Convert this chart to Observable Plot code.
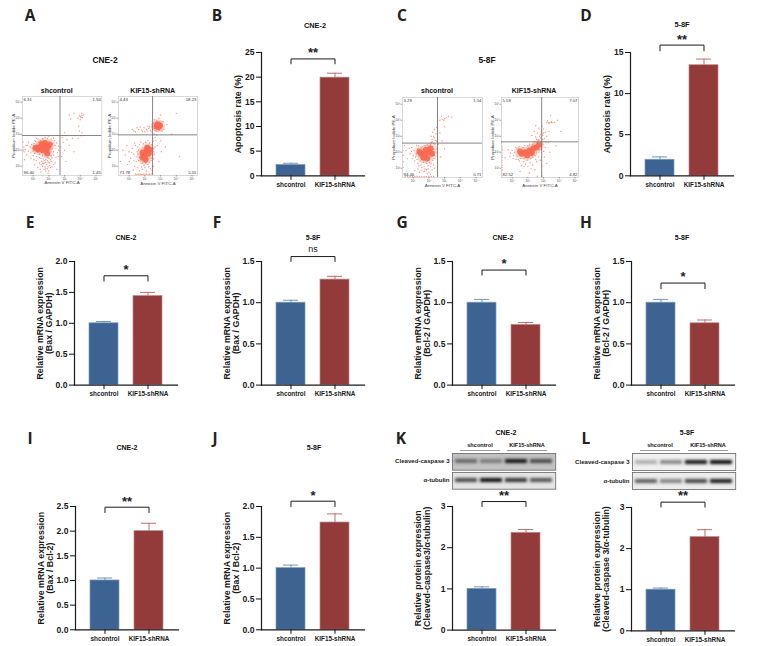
<!DOCTYPE html>
<html><head><meta charset="utf-8">
<script src="https://cdn.jsdelivr.net/npm/d3@7"></script>
<script src="https://cdn.jsdelivr.net/npm/@observablehq/plot@0.6"></script>
<style>
html,body{margin:0;padding:0;background:#fff}
#page{position:relative;width:768px;height:646px;overflow:hidden;font-family:"Liberation Sans",sans-serif;color:#111}
#page>svg,#page>div{position:absolute}
.t{transform:translate(-50%,-50%);white-space:nowrap;font-weight:700;line-height:1}
.letter{font-family:"Open Sans",sans-serif;font-size:15.5px;font-weight:700;color:#222}
.blot g[aria-label="cell"] rect{filter:blur(1.5px)}
.flow g[aria-label="dot"] circle{filter:blur(.25px)}
.flow g[aria-label="core"] circle{filter:blur(1px)}
</style></head><body><div id="page"></div>
<script>
// ---------- bar panels ----------
const groups = ["shcontrol", "KIF15-shRNA"];
const panelIds = ["B","D","E","F","G","H","I","J","K","L"];
const meanControl = [2.2,1.95,1.0,1.0,1.0,1.0,1.0,1.0,1.0,1.0];
const meanKif = [19.9,13.45,1.44,1.28,0.73,0.75,2.0,1.74,2.36,2.28];
const errControl = [2.55,2.3,1.03,1.03,1.04,1.04,1.05,1.05,1.05,1.04];
const errKif = [20.8,14.2,1.5,1.32,0.76,0.79,2.16,1.88,2.44,2.46];
const yMax = [25,15,2,1.5,1.5,1.5,2.5,2,3,3];
const yTicks = [[0,5,10,15,20,25],[0,5,10,15],[0,.5,1,1.5,2],[0,.5,1,1.5],[0,.5,1,1.5],[0,.5,1,1.5],[0,.5,1,1.5,2,2.5],[0,.5,1,1.5,2],[0,1,2,3],[0,1,2,3]];
const yLabels = ["Apoptosis rate (%)","Apoptosis rate (%)",
 "Relative mRNA expression\n(Bax / GAPDH)","Relative mRNA expression\n(Bax / GAPDH)",
 "Relative mRNA expression\n(Bcl-2 / GAPDH)","Relative mRNA expression\n(Bcl-2 / GAPDH)",
 "Relative mRNA expression\n(Bax / Bcl-2)","Relative mRNA expression\n(Bax / Bcl-2)",
 "Relative protein expression\n(Cleaved-caspase3/α-tubulin)","Relative protein expression\n(Cleaved-caspase 3/α-tubulin)"];
const sigText = ["**","**","*","ns","*","*","**","*","**","**"];
const bracketTop = [23.7,15.9,1.769,1.56,1.396,1.238,2.486,2.086,3.12,3.13];
const bracketEnd = [22.7,15.2,1.683,1.5,1.335,1.17,2.378,2.0,3.0,3.01];
const sigY = [25.2,16.7,1.88,1.654,1.484,1.326,2.62,2.195,3.29,3.31];
// layout of bar panels on the page: axis x, y of top tick, y of baseline
const panelX = [261,630,74,261,451.7,631.3,75.3,261,451.7,631.3];
const panelTop = [51.7,51.7,260.7,260.7,260.7,260.7,506,506,505.7,506.7];
const panelBottom = [175,175,384.3,384.3,384.3,384.3,629.3,629.3,629.3,630];

const page = document.getElementById("page");
const FONT = "Liberation Sans";
const BLUE = "#3c6391", RED = "#933a3a";
function place(svg, left, top){ svg.style.left = left+"px"; svg.style.top = top+"px"; page.appendChild(svg); }

panelIds.forEach((id,i)=>{
  const rows = [
    {g:groups[0], v:meanControl[i], e:errControl[i], fill:BLUE, edge:"#7d9bbf", err:"#7394bb"},
    {g:groups[1], v:meanKif[i], e:errKif[i], fill:RED, edge:"#bd8686", err:"#c4686c"}
  ];
  const bracket = [
    {g:groups[0], y:bracketEnd[i]},{g:groups[0], y:bracketTop[i]},
    {g:groups[1], y:bracketTop[i]},{g:groups[1], y:bracketEnd[i]}
  ];
  const ml=50, mt=26, mb=20, mr=2, w=103;
  const ph = panelBottom[i]-panelTop[i];
  const isNs = sigText[i]==="ns";
  const twoLine = yLabels[i].includes("\n");
  const svg = Plot.plot({
    width: ml+w+mr, height: mt+ph+mb,
    marginLeft: ml, marginRight: mr, marginTop: mt, marginBottom: mb,
    style:{fontFamily:FONT, background:"transparent", overflow:"visible"},
    x:{domain:groups, padding:0.335, label:null},
    y:{domain:[0,yMax[i]], label:null},
    marks:[
      Plot.barY(rows,{x:"g", y:"v", fill:d=>d.fill, stroke:d=>d.edge, strokeWidth:0.7}),
      Plot.ruleX(rows,{x:"g", y1:"v", y2:"e", stroke:d=>d.err, strokeWidth:1}),
      Plot.tickY(rows,{x:"g", y:"e", stroke:d=>d.err, strokeWidth:1, insetLeft:7, insetRight:7}),
      Plot.frame({anchor:"left", stroke:"#1a1a1a", strokeWidth:1.2}),
      Plot.frame({anchor:"bottom", stroke:"#1a1a1a", strokeWidth:1.2}),
      Plot.axisY({ticks:yTicks[i], tickFormat:d=>yMax[i]<=2.5?d3.format(".1f")(d):String(d), tickSize:5, tickPadding:2, fontSize:8.6, fontWeight:700, fill:"#1a1a1a", label:null}),
      Plot.axisY({ticks:[], tickSize:0, fontSize:8.9, fontWeight:700, fill:"#1a1a1a", lineHeight:1.28,
        label:yLabels[i], labelAnchor:"center", labelArrow:"none", labelOffset:twoLine?38:27}),
      Plot.axisX({tickSize:4.5, tickPadding:2, fontSize:6.4, fontWeight:700, fill:"#1a1a1a", label:null}),
      Plot.line(bracket,{x:"g", y:"y", stroke:"#1a1a1a", strokeWidth:1}),
      Plot.text([sigText[i]],{y:()=>sigY[i], text:d=>d, fontSize:isNs?9:13, fontWeight:isNs?400:700, fill:"#222", dy:isNs?0:1, lineAnchor:"middle"})
    ]
  });
  place(svg, panelX[i]-ml, panelTop[i]-mt);
});

const flowIds = ["A1","A2","C1","C2"];
const flowCore = {
 A1:[[1.45,2.2],[1.7,2.3],[1.95,2.2],[1.6,2.0],[1.85,2.0],[1.3,2.05],[2.05,2.35],[1.75,2.45],[1.9,1.8],[1.55,2.4],[1.15,2.15]],
 A2:[[1.85,1.85],[2.1,1.95],[2.25,1.8],[2.0,1.65],[1.85,1.55],[2.15,2.15],[2.3,2.05],[2.05,1.4],[2.75,3.5],[2.85,3.45],[2.8,3.62],[2.95,3.55]],
 C1:[[1.5,1.9],[1.75,1.85],[2.0,2.0],[1.65,1.65],[1.9,1.6],[1.4,2.05],[2.1,2.25],[1.8,2.15],[2.2,1.9]],
 C2:[[1.6,1.9],[1.85,2.0],[2.1,2.1],[2.35,2.25],[1.95,1.8],[2.25,1.95],[1.5,2.05],[2.55,2.3],[2.7,2.45]]
};
const flowSpray = {
 A1:[[.95,2.1],[1.05,2.4],[1.1,1.8],[1.15,2.55],[1.0,1.95],[1.2,1.6],[1.3,2.7],[1.5,1.5],[1.65,1.45],[1.8,1.4],[2.0,1.5],[2.15,1.65],[2.3,1.9],[2.4,2.3],[2.35,2.6],[2.15,2.7],[1.9,2.75],[1.6,2.72],[2.45,2.1],[2.55,1.85],
  [1.7,1.2],[1.85,1.1],[1.95,1.25],[2.05,1.05],[1.75,.95],[1.9,.85],[2.0,.7],[1.6,1.0],[1.55,1.3],[2.15,1.3],[2.2,.95],[1.8,.7],[1.4,1.2],[1.3,.9],[1.1,1.1],[2.4,1.2],[2.5,.8],[1.95,.55],[1.5,.62],
  [.4,2.2],[.36,2.5],[.42,1.9],[.5,2.05],[.65,2.3],[.7,1.95],[.8,2.2],[.6,1.7],[.45,1.4],[.38,2.0],
  [2.75,2.2],[2.9,2.5],[3.0,2.0],[3.15,2.65],[3.3,2.3],[3.5,2.75],[2.8,1.6],[3.1,1.3],[3.6,1.9],[2.85,2.8],
  [4.0,4.1],[4.1,4.15],[4.05,4.05],[3.95,4.15],[4.15,4.05],[4.2,4.2],[3.85,4.0],[4.0,3.9],[4.1,4.3],[3.6,4.3],[3.4,3.95],[3.9,3.5],[3.3,4.2],[3.95,3.2],[4.05,2.9],[3.85,2.75],[4.1,3.1],[3.0,3.1],
  [1.2,2.3],[1.25,1.9],[1.35,2.5],[1.4,1.75],[1.45,2.6],[2.2,2.1],[2.25,2.4],[2.3,1.7],[2.2,1.5],[2.1,1.4],[1.9,1.55],[1.75,1.6],[1.6,1.65],[1.4,1.55],[1.05,2.2],[.9,2.35],[.85,1.85],[1.0,1.65],[1.1,2.6],[1.2,2.75],[1.75,2.8],[2.0,2.85],[2.3,2.75],[2.5,2.45],[2.6,2.25],[2.62,2.0],[2.6,1.6],[2.45,1.55],[1.8,1.25],[1.9,1.35],[2.05,1.2],[1.7,1.35],[1.65,1.15],[1.95,.95],[1.8,.85],[2.1,.9],[1.7,.8],[1.6,1.2],[1.5,1.1],[2.3,1.1],[1.45,.8],[1.2,1.35],[1.05,1.4],[.85,1.5],[.7,2.5],[.55,2.3]],
 A2:[[1.5,1.9],[1.45,1.6],[1.55,2.2],[1.6,1.35],[1.75,1.15],[1.95,1.05],[2.2,1.1],[2.4,1.35],[2.5,1.7],[2.55,2.1],[2.45,2.35],[2.3,2.45],[1.9,2.4],[1.65,2.35],[1.3,1.75],[1.2,2.1],[1.1,1.5],[1.0,1.9],[.85,2.3],[.75,1.7],[.6,2.0],[.45,1.3],[1.35,1.0],[1.55,.9],[1.85,.8],[2.1,.7],[2.35,.85],[2.55,1.0],[1.25,.75],
  [1.6,.5],[1.8,.48],[2.0,.5],[2.2,.48],[2.4,.5],[1.4,.5],[1.9,.5],[2.3,.5],[1.5,.48],[1.7,.5],[2.1,.5],
  [2.55,2.55],[2.65,2.8],[2.6,3.0],[2.7,2.6],[2.75,2.95],[2.5,2.75],[2.8,2.3],[3.0,2.6],[3.05,1.9],[3.3,2.2],[2.9,1.3],
  [1.6,3.3],[1.8,3.25],[1.95,3.4],[2.1,3.3],[2.25,3.35],[2.35,3.25],[2.45,3.45],[1.4,3.15],[1.2,3.3],[2.0,3.15],[2.2,3.5],[2.5,3.3],[1.7,3.45],
  [2.55,3.7],[2.6,3.9],[3.1,3.5],[3.15,3.8],[3.2,3.3],[2.9,4.0],[3.1,3.2],[2.65,3.25],[3.4,3.6],[3.0,4.2],[3.7,3.0],[4.2,1.6],[4.0,4.3],
  [1.6,2.0],[1.55,1.75],[1.4,2.3],[1.65,1.55],[1.7,1.35],[1.85,1.2],[2.05,1.2],[2.3,1.25],[2.4,1.5],[2.5,1.9],[2.6,1.75],[2.55,1.45],[2.65,2.2],[1.75,2.5],[2.05,2.5],[2.2,2.6],[1.45,1.3],[1.3,1.35],[1.15,1.85],[1.35,2.45],[1.0,1.3],[1.8,.95],[2.0,.9],[2.25,.95],[2.45,.75],[1.65,.72],[.9,1.1],
  [1.85,3.15],[2.15,3.2],[2.3,3.45],[2.4,3.15],[2.45,3.6],[2.6,3.35],[2.6,3.6],[3.05,3.35],[3.05,3.7],[2.95,3.25],[2.75,3.2],[2.75,3.85],[1.5,3.4],[1.3,3.2]],
 C1:[[1.05,2.1],[1.15,1.7],[1.1,1.45],[1.2,2.4],[1.3,1.3],[1.5,1.2],[1.7,1.1],[1.95,1.15],[2.15,1.3],[2.35,1.6],[2.45,2.0],[2.45,2.35],[2.3,2.55],[2.15,2.6],[1.9,2.45],[1.6,2.35],[1.35,2.4],[.9,2.3],[.8,1.9],[.65,1.6],[.55,2.1],[.45,2.4],[.36,1.8],[.36,1.4],[.36,2.1],[.36,1.05],
  [1.85,.9],[2.0,.75],[1.7,.8],[1.5,.85],[1.3,.95],[2.2,.9],[2.35,1.0],[1.1,.85],
  [.5,.48],[.8,.48],[1.1,.48],[1.4,.48],[1.7,.48],[2.0,.48],[2.3,.48],[.65,.48],[.95,.48],[1.25,.48],[1.55,.48],[1.85,.48],[2.15,.48],
  [2.2,2.8],[2.3,3.0],[2.4,2.75],[2.45,3.15],[2.25,3.25],[2.55,2.9],[2.6,2.5],[2.35,3.4],[2.5,3.55],[2.7,3.2],[2.85,2.7],[3.0,2.2],[2.75,1.7],[2.15,3.0],
  [2.7,4.0],[2.85,4.05],[3.0,4.1],[3.1,4.15],[2.95,4.0],[2.55,3.95],[3.25,4.25],[2.8,4.25],[3.0,3.6],[3.45,4.2],
  [1.25,1.55],[1.2,1.9],[1.3,2.2],[1.45,1.45],[1.65,1.35],[1.85,1.3],[2.05,1.35],[2.25,1.5],[2.35,1.8],[2.3,2.2],[2.4,2.5],[2.5,2.2],[2.5,2.7],[2.1,2.5],[1.75,2.4],[1.5,2.3],[1.0,1.8],[.95,1.6],[.9,2.05],[.75,2.25],[1.55,1.05],[1.75,.95],[1.95,.95],[2.1,1.1],[1.35,1.15],[2.3,1.2],[1.4,.75],[1.9,.65],[2.1,.6],[2.35,2.9],[2.2,2.65]],
 C2:[[1.1,1.8],[1.0,2.1],[.85,1.75],[.75,2.15],[1.2,2.3],[1.25,1.55],[1.45,1.45],[1.7,1.4],[1.95,1.5],[2.2,1.6],[2.45,1.8],[2.7,2.0],[2.85,2.2],[2.95,2.5],[2.7,2.75],[2.4,2.65],[2.1,2.5],[1.8,2.4],[1.45,2.35],[.55,1.65],
  [.36,1.2],[.36,1.5],[.36,1.8],[.36,2.1],[.36,2.35],[.36,.9],[.36,1.35],[.36,1.65],[.36,1.95],[.36,2.2],[.36,1.05],
  [1.6,1.15],[2.0,1.1],[2.3,1.2],[2.55,1.4],[2.8,1.5],[3.05,1.7],[2.9,1.1],[2.45,.9],[3.2,1.3],[3.4,2.0],[3.1,2.3],[3.3,2.6],[2.1,.7],[1.5,.8],
  [2.5,2.95],[2.6,3.2],[2.75,3.0],[2.85,3.3],[2.95,3.05],[3.05,2.85],[2.7,3.5],[2.9,3.6],[3.1,3.25],[3.2,3.0],[2.8,2.9],[2.4,3.3],[3.0,3.45],[2.65,2.75],[3.35,3.3],[2.25,3.05],[2.5,3.65],
  [3.2,3.85],[3.3,3.85],[3.4,3.85],[3.5,3.85],[3.6,3.85],[3.7,3.88],[3.35,3.8],[3.5,3.9],[3.25,3.95],[3.45,4.3],[3.9,4.0],[4.1,3.3],[3.8,2.4],[2.6,.5],[2.9,.5],
  [1.3,1.75],[1.15,2.0],[1.3,2.2],[1.4,1.55],[1.55,1.6],[1.75,1.6],[2.05,1.65],[2.3,1.7],[2.55,1.95],[2.75,2.15],[2.9,2.35],[2.85,2.6],[2.6,2.6],[2.3,2.5],[2.0,2.4],[1.7,2.3],[1.4,2.25],[1.05,1.6],[.9,1.95],[2.65,2.2],[2.95,2.8],[2.8,2.45],[1.85,1.25],[2.15,1.35],[2.5,1.55],[2.7,1.7],[3.0,2.05],[3.15,2.6],[2.55,2.8],[2.9,3.15],[3.0,3.2],[2.8,3.1],[1.75,1.1],[2.2,.95]]
};
const flowGate = {A1:[2.71,2.92],A2:[2.49,2.96],C1:[2.55,2.57],C2:[2.88,2.65]};
const flowQuad = {A1:["6.31","1.94","96.40","1.45"],A2:["4.43","18.23","71.78","5.55"],C1:["3.29","1.54","94.46","0.71"],C2:["5.59","7.07","82.52","4.82"]};
const flowYLabel = "Propidium Iodide PE-A";
const flowXLabel = "Annexin V FITC-A";
const decades = [1,2,3,4,5];
const sup = {1:"¹",2:"²",3:"³",4:"⁴",5:"⁵"};
// page layout: frame left, top, width, height
const flowBox = {A1:[21.7,96,79.3,79],A2:[118.3,96,79,79],C1:[402.3,96.7,80,80],C2:[501.3,96.7,77,80]};

flowIds.forEach(id=>{
  const [l,t,w,h] = flowBox[id];
  const ml=16, mb=12, mt=1, mr=1;
  const q = flowQuad[id];
  const dotC = "#f7674f";
  const svg = Plot.plot({
    className:"flow",
    width:ml+w+mr, height:mt+h+mb, marginLeft:ml, marginRight:mr, marginTop:mt, marginBottom:mb,
    style:{fontFamily:FONT, background:"transparent", overflow:"visible"},
    x:{domain:[.32,.32+w/15.7], label:null},
    y:{domain:[.42,.42+h/16], label:null},
    marks:[
      Plot.dot(flowCore[id],{x:d=>d[0], y:d=>d[1], r:5.5, fill:dotC, fillOpacity:.18, ariaLabel:"core"}),
      Plot.dot(flowSpray[id],{x:d=>d[0], y:d=>d[1], r:0.7, fill:dotC, fillOpacity:.7}),
      Plot.dot(flowCore[id],{x:d=>d[0], y:d=>d[1], r:3, fill:dotC, fillOpacity:.9, ariaLabel:"core"}),
      Plot.frame({stroke:"#cfcfcf", strokeWidth:.8}),
      Plot.ruleX([flowGate[id][0]],{stroke:"#777", strokeWidth:.9}),
      Plot.ruleY([flowGate[id][1]],{stroke:"#777", strokeWidth:.9}),
      Plot.axisX({ticks:decades, tickFormat:d=>"10"+sup[d], tickSize:1.5, tickPadding:.5, fontSize:3.4, fill:"#555", stroke:"#999", label:null}),
      Plot.axisY({ticks:decades, tickFormat:d=>"10"+sup[d], tickSize:1.5, tickPadding:.5, fontSize:3.4, fill:"#555", stroke:"#999", label:null}),
      Plot.axisX({ticks:[], tickSize:0, fontSize:4.4, fill:"#444", label:flowXLabel, labelAnchor:"center", labelArrow:"none", labelOffset:9}),
      Plot.axisY({ticks:[], tickSize:0, fontSize:4.4, fill:"#444", label:flowYLabel, labelAnchor:"center", labelArrow:"none", labelOffset:11}),
      Plot.text([q[0]],{frameAnchor:"top-left", dx:1, dy:1.5, fontSize:4.3, fill:"#333"}),
      Plot.text([q[1]],{frameAnchor:"top-right", dx:-1, dy:1.5, fontSize:4.3, fill:"#333"}),
      Plot.text([q[2]],{frameAnchor:"bottom-left", dx:1, dy:-1.5, fontSize:4.3, fill:"#333"}),
      Plot.text([q[3]],{frameAnchor:"bottom-right", dx:-1, dy:-1.5, fontSize:4.3, fill:"#333"})
    ]
  });
  place(svg, l-ml, t-mt);
});

// ---------- western blots ----------
const lanes = ["1","2","3","4"];
const blotLabels = ["Cleaved-caspase 3","α-tubulin"];
const blotK = {"Cleaved-caspase 3":[.55,.45,.95,.7],"α-tubulin":[.7,.98,.8,.65]};
const blotL = {"Cleaved-caspase 3":[.22,.4,.95,1],"α-tubulin":[.6,.42,.72,.92]};
const blotBg = {K:{"Cleaved-caspase 3":"#c2c2c2","α-tubulin":"#e4e4e4"},L:{"Cleaved-caspase 3":"#f0f0f0","α-tubulin":"#ececec"}};
const blotBox = {K:[451.7,453.3,103.3,16.7,472.3],L:[631.7,453,103.3,17,472]};
[["K",blotK],["L",blotL]].forEach(([id,blot])=>{
  const [l,t1,w,h,t2] = blotBox[id];
  blotLabels.forEach((name,j)=>{
    const ml=62;
    const cells = lanes.map((lane,k)=>({lane, name, v:blot[name][k]}));
    const svg = Plot.plot({
      className:"blot",
      width:ml+w, height:h, marginLeft:ml, marginRight:0, marginTop:0, marginBottom:0,
      style:{fontFamily:FONT, background:"transparent", overflow:"visible"},
      x:{domain:lanes, padding:.12, axis:null},
      y:{domain:[name], padding:.62, label:null},
      color:{type:"linear", domain:[0,1], range:["#dcdcdc","#050505"]},
      marks:[
        Plot.frame({fill:blotBg[id][name]}),
        Plot.cell(cells,{x:"lane", y:"name", fill:"v"}),
        Plot.frame({stroke:"#666", strokeWidth:.8}),
        Plot.axisY({tickSize:0, tickPadding:3, fontSize:6.1, fontWeight:700, fill:"#222", label:null})
      ]
    });
    place(svg, l-ml, j===0?t1:t2);
  });
});

// ---------- captions ----------
function label(txt,x,y,size,cls){
  const d=document.createElement("div");
  d.className="t "+(cls||""); d.textContent=txt;
  d.style.left=x+"px"; d.style.top=y+"px"; if(size) d.style.fontSize=size+"px";
  page.appendChild(d);
}
const letters = [["A",30,16],["B",217,16],["C",402,16],["D",586,16],["E",30,223],["F",217,223],["G",402,223],["H",586,223],["I",30,439],["J",215,439],["K",401,439],["L",586,439]];
letters.forEach(([s,x,y])=>label(s,x,y,null,"letter"));
const titles = [["CNE-2",315,26,7.4],["5-8F",682,25,7.4],["CNE-2",105,60,8.4],["5-8F",487,60,8.4],
 ["CNE-2",126,237,7],["5-8F",313,237,7],["CNE-2",503,237,7],["5-8F",682,237,7],
 ["CNE-2",127,447,7],["5-8F",314,447,7],["CNE-2",506,432,7],["5-8F",687,432,7],
 ["shcontrol",56.7,89.5,7],["KIF15-shRNA",152.7,89.5,7],["shcontrol",437,90,7],["KIF15-shRNA",534,90,7],
 ["shcontrol",480,445.7,5.6],["KIF15-shRNA",527,445.7,5.6],["shcontrol",660,445.7,5.6],["KIF15-shRNA",708,445.7,5.6]];
titles.forEach(([s,x,y,f])=>label(s,x,y,f));
const groupLines = [[460,450.3,40],[507,450.3,40],[640,450.3,40],[688,450.3,40]];
groupLines.forEach(([x,y,w])=>{
  const d=document.createElement("div");
  d.style.cssText=`left:${x}px;top:${y}px;width:${w}px;height:0;border-top:1px solid #999`;
  page.appendChild(d);
});
</script></body></html>
